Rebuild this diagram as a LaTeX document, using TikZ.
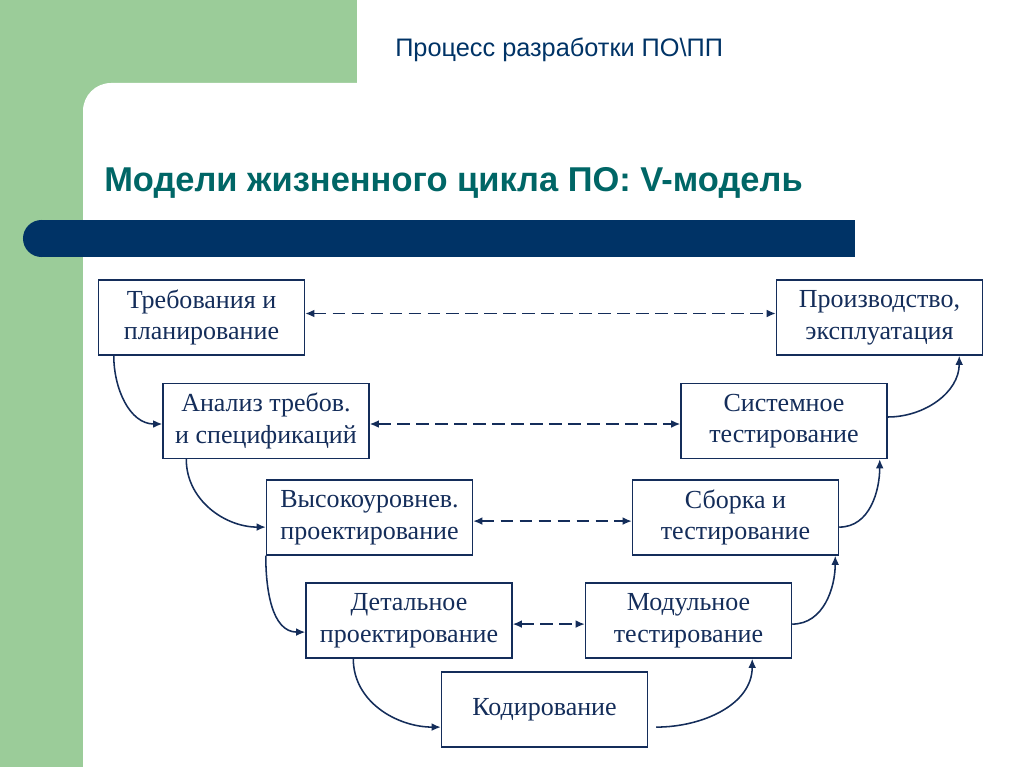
\documentclass[tikz,border=0pt]{standalone}
\usepackage{fontspec}
\setmainfont{Liberation Serif}
\newfontfamily\headfont{Liberation Sans}
\usetikzlibrary{arrows.meta}

\definecolor{slidegreen}{RGB}{155,204,153}
\definecolor{slidenavy}{RGB}{0,51,102}
\definecolor{slideteal}{RGB}{0,102,102}
\definecolor{boxnavy}{RGB}{20,45,90}

\begin{document}
\begin{tikzpicture}[x=0.025cm,y=-0.025cm,
	stage/.style={draw=boxnavy,line width=1pt,text=boxnavy,fill=white,
		minimum width=5.15cm,minimum height=1.875cm,inner sep=0pt,align=center,
		font=\fontsize{18.5}{22.5}\selectfont},
	flow/.style={draw=boxnavy,line width=1.1pt,-{Latex[length=6.5pt,width=5.5pt]}},
	link/.style={draw=boxnavy,line width=1.1pt,dash pattern=on 9pt off 4.5pt,
		{Latex[length=6.5pt,width=5.5pt]}-{Latex[length=6.5pt,width=5.5pt]}}]

\def\slideW{1024}
\def\slideH{767}
\def\bandW{83}
\def\capW{357}
\def\barTop{220}
\def\barBot{257}
\def\barL{23}
\def\barR{855}

% background of the slide
\useasboundingbox (0,0) rectangle (\slideW,\slideH);
\clip (0,0) rectangle (\slideW,\slideH);
\fill[slidegreen] (0,0) rectangle (\capW,\slideH);
\fill[white,rounded corners=0.7cm] (\bandW,\bandW) rectangle (\slideW+100,\slideH+100);
\fill[slidenavy] (\barL+18.5,\barTop) rectangle (\barR,\barBot);
\fill[slidenavy] (\barL+18.5,{(\barTop+\barBot)/2}) circle (0.4625cm);

\node[anchor=base west,inner sep=0pt,text=slidenavy,font=\headfont\fontsize{18}{21}\selectfont]
	(head) at (395,57) {Процесс разработки ПО\textbackslash ПП};
\node[anchor=base west,inner sep=0pt,text=slideteal,font=\headfont\bfseries\fontsize{24.5}{29}\selectfont]
	(title) at (104,192) {Модели жизненного цикла ПО: V-модель};

% left branch
\node[stage] (req)  at (201.5,317.5) {Требования и\\планирование};
\node[stage] (anal) at (266,421)     {Анализ требов.\\и спецификаций};
\node[stage] (high) at (369.5,517.5) {Высокоуровнев.\\проектирование};
\node[stage] (det)  at (409,620.5)   {Детальное\\проектирование};
\node[stage] (code) at (544.5,709.5) {Кодирование};
% right branch
\node[stage] (unit) at (688.5,620.5) {Модульное\\тестирование};
\node[stage] (asm)  at (735.5,517.5) {Сборка и\\тестирование};
\node[stage] (sys)  at (784,421)     {Системное\\тестирование};
\node[stage] (prod) at (879.5,317.5) {Производство,\\эксплуатация};

\draw[flow] ([xshift=0.4cm]req.south west) to[out=-90,in=180] ([yshift=-0.075cm]anal.west);
\draw[flow] ([xshift=0.6cm]anal.south west) to[out=-90,in=180] ([yshift=-0.24cm]high.west);
\draw[flow] (high.south west) to[out=-90,in=180] ([yshift=-0.29cm]det.west);
\draw[flow] ([xshift=1.2cm]det.south west) to[out=-90,in=180] ([yshift=-0.44cm]code.west);

\draw[flow] ([xshift=0.2cm,yshift=-0.44cm]code.east) to[out=0,in=-90] ([xshift=-1cm]unit.south east);
\draw[flow] ([yshift=-0.09cm]unit.east) to[out=0,in=-90] ([xshift=-0.1cm]asm.south east);
\draw[flow] ([yshift=-0.24cm]asm.east) to[out=0,in=-90] ([xshift=-0.2cm]sys.south east);
\draw[flow] ([yshift=0.1cm]sys.east) to[out=0,in=-90] ([xshift=-0.6cm]prod.south east);

\draw[link] ([yshift=0.1cm]req.east) -- ([yshift=0.1cm]prod.west);
\draw[link] ([yshift=-0.075cm]anal.east) -- ([yshift=-0.075cm]sys.west);
\draw[link] ([yshift=-0.09cm]high.east) -- ([yshift=-0.09cm]asm.west);
\draw[link] ([yshift=-0.09cm]det.east) -- ([yshift=-0.09cm]unit.west);

\end{tikzpicture}
\end{document}
